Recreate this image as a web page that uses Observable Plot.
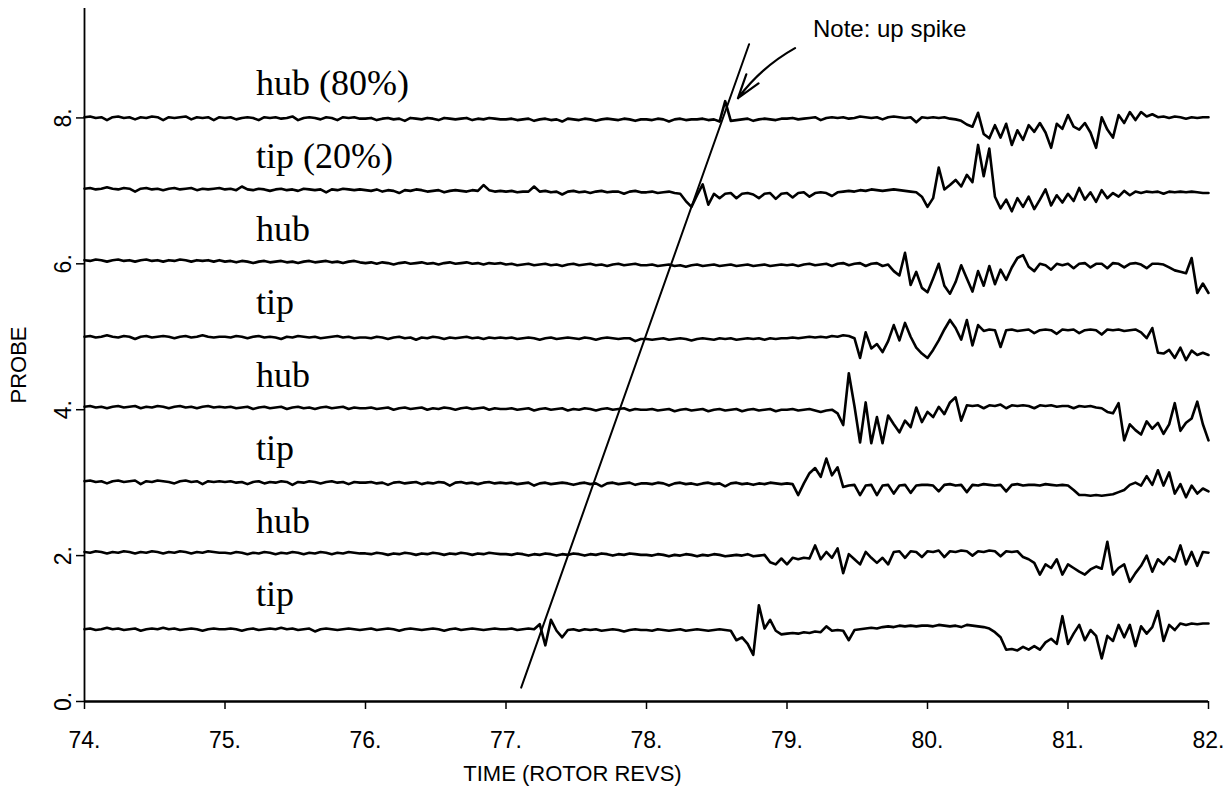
<!DOCTYPE html>
<html>
<head>
<meta charset="utf-8">
<script src="https://cdn.jsdelivr.net/npm/d3@7"></script>
<script src="https://cdn.jsdelivr.net/npm/@observablehq/plot@0.6"></script>
<style>
  html, body { margin: 0; padding: 0; background: #fff; }
</style>
</head>
<body>
<div id="chart"></div>
<script>
// Probe traces, sampled every 0.04 rotor rev from 74 to 82 (201 samples each).
// Each value is the deviation from the probe's base level, in hundredths.
const t0 = 74;
const dt = 0.04;

const probeLevels = [8, 7, 6, 5, 4, 3, 2, 1];
const probeNames = ["hub (80%)", "tip (20%)", "hub", "tip", "hub", "tip", "hub", "tip"];

const probe8Hub = [
  1,2,0,1,-3, 1,2,0,1,-2, 1,0,2,1,-3, 1,0,1,2,-2, 1,0,1,-3,1,
  0,1,-2,0,1, 0,-3,1,0,1, -1,0,2,-3,0, 1,0,-2,1,0, -3,1,0,1,-1,
  -1,0,-3,-1,0, -2,-1,-4,0,-1, -2,0,-1,-3,0, -1,-2,-1,0,-3, -1,-2,0,-1,-2,
  -2,-1,-3,-2,-1, -4,-2,-1,-3,-2, -5,-1,-2,-3,-1, -2,-4,-2,-1,-2, -3,-1,-2,-4,-2,
  -2,-3,-1,-2,-5, -2,-1,-3,-2,-2, -1,-3,-2,-5,23, -4,-3,-2,-1,-4, -2,-1,-2,-3,-1,
  -1,0,-2,-1,0, 1,-3,0,1,0, 1,-1,0,2,1, 0,1,-2,1,2, 1,0,1,-6,1,
  0,1,0,1,-1, -2,-4,-9,-12,7, -22,-28,-10,-27,-8, -37,-17,-30,-10,-19, -7,-20,-41,-8,-15,
  4,-12,-16,-7,-20, -41,1,-16,-27,4, -7,8,-3,8,2, 5,1,2,0,2, 1,-1,1,0,1,
  1
];

const probe7Tip = [
  3,4,2,3,5, 3,2,4,3,-1, 3,4,2,3,1, 3,4,2,3,4, 1,3,2,3,4,
  2,3,1,6,2, 1,3,2,0,2, 3,1,2,0,3, 2,1,2,-2,2, 1,3,2,1,2,
  1,0,2,-1,1, 0,-3,1,0,2, 1,-1,0,1,-2, 0,1,0,-1,1, 0,8,1,-1,0,
  -1,0,-2,-1,-1, 6,-1,0,-2,-1, -5,-1,0,-2,-1, -3,-1,0,-2,-1, -1,-4,-1,0,-2,
  -2,-1,-3,-2,-1, -3,-4,-14,-22,-6, 9,-19,-4,-10,-4, -3,-10,-4,-3,-5, -10,-4,-3,-11,-4,
  -3,-9,-3,-2,-8, -3,-2,-3,-7,-2, -1,0,-1,1,0, 2,1,0,1,2, 1,0,-1,-2,-8,
  -22,-10,32,2,8, 15,6,22,12,63, 20,58,-8,-24,-12, -28,-10,-22,-8,-25, -12,2,-20,-6,-16,
  -4,-14,4,-12,-2, -15,1,-10,-3,-8, 0,-6,-1,-3,-1, -2,-1,-4,-1,-2, -1,-2,-1,-2,-3,
  -3
];

const probe6Hub = [
  5,4,6,5,3, 5,6,4,5,3, 5,6,4,5,3, 5,4,6,5,3, 5,4,5,3,5,
  3,4,2,4,3, 1,3,4,2,3, 4,2,3,1,3, 4,2,3,4,2, 3,1,3,4,2,
  1,2,0,2,1, -1,1,2,0,1, 2,0,1,-1,1, 2,0,1,2,0, 1,-1,1,0,1,
  -1,0,-2,-1,0, -2,-1,0,-2,-1, -3,-1,0,-2,-1, 0,-2,-1,-3,-1, 0,-2,-1,0,-2,
  -2,-1,-3,-2,-1, -3,-2,-4,-2,-1, -3,-2,-1,-3,-2, -1,-3,-2,-1,-3, -2,-1,-3,-2,-1,
  -2,-1,-3,-1,0, -2,-1,0,-3,0, 1,-2,0,1,-3, 0,1,-3,-1,-10, -16,15,-29,-11,-33,
  -39,-20,0,-30,-41, -25,-2,-20,-38,-10, -30,-3,-28,-8,-22, -5,8,12,-4,-10, 0,-2,-8,0,-2,
  0,-6,0,1,-5, 0,0,-6,1,0, -5,0,1,-1,-6, 0,0,-1,-5,-9, -11,-13,8,-40,-27,
  -40
];

const probe5Tip = [
  0,1,-1,0,2, 0,-1,1,0,-3, 0,1,-1,0,1, 0,-2,0,1,-1, 0,2,0,-1,0,
  0,-1,1,0,-2, 0,1,-1,0,-1, -3,0,-1,1,0, -1,0,-2,-1,0, 1,-1,0,-2,-1,
  -1,-2,0,-1,-3, -1,0,-2,-1,-4, -1,-2,0,-1,-3, -1,-2,-1,0,-2, -1,-3,-1,-2,-1,
  -2,-1,-3,-2,-1, -2,-4,-2,-1,-3, -2,-1,-2,-3,-1, -2,-4,-2,-1,-2, -3,-2,-2,-6,-3,
  -3,-4,-3,-2,-4, -3,-2,-3,-5,-3, -2,-3,-4,-2,-3, -2,-4,-3,-2,-3, -2,-4,-2,-3,-2,
  -2,-1,-2,-1,0, -1,0,-1,1,0, 2,1,-2,-29,6, -16,-10,-21,-6,16, -5,19,0,-15,-23,
  -29,-18,-5,10,23, 12,-4,23,-12,16, 8,10,9,-14,9, 10,8,9,10,5, 9,10,9,4,10,
  9,10,5,9,10, 9,3,10,9,10, 8,9,10,6,-2, 12,-22,-23,-18,-29, -15,-32,-19,-25,-22,
  -25
];

const probe4Hub = [
  4,5,3,4,2, 4,5,3,4,5, 2,4,3,5,4, 2,4,5,3,4, 2,4,5,3,4,
  3,4,2,3,4, 1,3,4,2,3, 4,1,3,4,2, 3,1,3,4,2, 3,4,1,3,2,
  2,3,1,2,3, 0,2,3,1,2, 3,0,2,1,3, 2,0,2,3,1, 2,3,0,2,1,
  1,2,0,1,2, -1,1,2,0,1, 2,-1,1,0,2, 1,-1,1,2,0, 1,2,-1,1,0,
  0,1,-1,0,1, -2,0,1,-1,0, 1,-2,0,1,-1, 0,1,-2,0,1, -1,0,1,-2,0,
  0,1,-1,0,1, -1,-3,-1,0,-5, -21,50,5,-45,10, -46,-10,-46,-8,-20, -31,-15,-24,3,-17,
  -3,-10,4,-6,10, 17,-15,6,5,6, 2,6,5,7,2, 6,5,6,5,2, 6,5,6,4,5,
  5,2,5,4,5, 3,2,-3,-5,9, -42,-20,-28,-34,-16, -26,-18,-33,-20,9, -29,-18,-12,11,-20,
  -42
];

const probe3Tip = [
  2,3,1,2,-1, 2,3,1,2,3, -2,2,1,3,2, 1,-1,2,3,1, 2,-2,2,1,2,
  1,2,0,1,-2, 1,2,-1,1,0, 2,1,-3,1,0, 2,1,-1,1,2, 0,1,-2,1,0,
  0,1,-1,0,-3, 0,1,-1,0,1, -2,0,-1,1,0, -4,0,1,-1,0, -2,0,1,-1,0,
  -1,0,-2,-1,0, -4,-1,0,-2,-1, 0,-1,-3,-1,0, -2,-1,-5,-1,0, -2,-1,0,-3,-1,
  -1,-2,0,-1,-4, -1,0,-2,-1,-3, -1,0,-2,-1,-5, -1,0,-2,-1,-3, -1,-2,0,-1,-2,
  -1,-2,-17,-1,13, 20,8,33,10,21, -6,-4,-3,-17,-4, -3,-17,-4,-3,-15, -4,-3,-14,-4,-3,
  -3,-4,-12,-3,-2, -4,-3,-13,-3,-4, -2,-3,-4,-3,-12, -3,-2,-4,-3,-3, -4,-2,-3,-4,-3,
  -4,-10,-17,-17,-18, -17,-18,-17,-16,-13, -10,-3,0,-4,9, -3,17,-4,14,-15, -2,-20,-4,-15,-8,
  -12
];

const probe2Hub = [
  5,4,6,5,3, 5,4,6,5,3, 5,4,6,5,3, 5,4,6,5,3, 5,4,6,5,4,
  4,3,5,4,2, 4,3,5,4,2, 4,3,5,4,2, 4,3,5,4,2, 4,3,5,4,3,
  3,2,4,3,1, 3,2,4,3,1, 3,2,4,3,1, 3,2,4,3,1, 3,2,4,3,2,
  2,1,3,2,0, 2,1,3,2,0, 2,1,3,2,0, 2,1,3,2,0, 2,1,3,2,1,
  1,0,2,1,-1, 1,0,2,1,-1, 1,0,2,1,-1, 0,1,0,2,-1, 0,1,-9,-12,-4,
  -12,-3,-5,-3,-4, 14,-5,5,-3,10, -24,2,-5,-12,5, -3,-10,-3,-12,5, 6,-3,6,5,-2,
  6,5,7,-2,6, 5,7,6,0,6, 5,7,6,-1,6, 5,6,-2,-5,-10, -26,-12,-17,-5,-26,
  -12,-17,-22,-26,-19, -15,-18,19,-26,-17, -12,-36,-24,-14,0, -22,-5,-12,-2,-8, 14,-12,5,-14,5,
  4
];

const probe1Tip = [
  -1,0,-2,-1,1, -1,0,-2,-1,0, -3,-1,0,-1,1, -1,0,-2,-1,0, -1,-3,-1,0,-1,
  -1,0,-1,-3,-1, 0,-2,-1,0,-1, 1,-1,0,-2,-1, 0,-4,-1,0,-1, -2,-1,0,-1,-2,
  -1,0,-2,-1,0, -1,-3,-1,0,-1, -2,-1,0,-1,-3, -1,0,-2,-1,0, -1,-2,-1,0,-1,
  -1,0,-2,-1,0, -1,6,-23,12,-3, -12,-2,-1,-3,-1, -2,-1,-3,-2,-1, -2,-4,-2,-1,-2,
  -2,-3,-1,-2,-3, -2,-1,-3,-2,-1, -2,-3,-2,-1,-2, -3,-16,-12,-21,-36, 32,0,12,-3,-8,
  -7,-6,-7,-5,-6, -4,-5,3,-3,-2, -3,-16,-2,-1,0, 1,0,2,3,2, 4,3,4,3,4,
  4,3,5,4,3, 4,2,5,4,3, 2,0,-5,-12,-29, -28,-30,-25,-29,-24, -29,-19,-14,-21,17,
  -21,-7,5,-16,-2, -10,-41,-10,-17,5, -12,5,-24,3,-7, 2,24,-17,5,-2, 7,5,7,6,7,
  7
];

const probeSeries = [probe8Hub, probe7Tip, probe6Hub, probe5Tip, probe4Hub, probe3Tip, probe2Hub, probe1Tip];

// Axis ticks
const xTicks = [74, 75, 76, 77, 78, 79, 80, 81, 82];
const yTicks = [0, 2, 4, 6, 8];

// Hand-drawn propagation line and its note
const spikeLine = [{t: 77.108, y: 0.19}, {t: 78.73, y: 9.01}];
const noteText = "Note: up spike";
const noteArrow = [{x1: 79.057, y1: 8.957, x2: 78.651, y2: 8.27}];

// Long-format rows for the line mark
const rows = [];
probeSeries.forEach((values, k) => {
  const level = probeLevels[k];
  values.forEach((v, i) => rows.push({probe: level, t: t0 + i * dt, y: level + v / 100}));
});

const labels = probeLevels.map((level, k) => ({level, name: probeNames[k]}));

const chart = Plot.plot({
  width: 1230,
  height: 786,
  marginLeft: 84,
  marginRight: 22,
  marginTop: 8,
  marginBottom: 85,
  style: {
    fontFamily: "'Liberation Sans', Arial, Helvetica, sans-serif",
    fontSize: "22px",
    color: "#000",
    background: "#fff"
  },
  x: {domain: [74, 82]},
  y: {domain: [0, 9.5]},
  marks: [
    Plot.axisX({ticks: xTicks, tickFormat: d => `${d}.`, tickSize: 8, tickPadding: 22, label: null, strokeWidth: 1.5, fontSize: 23}),
    Plot.axisY({ticks: yTicks, tickFormat: d => `${d}.`, tickSize: 8, tickPadding: 6, tickRotate: -90, label: null, strokeWidth: 1.5, fontSize: 23}),
    Plot.ruleY([0], {stroke: "#000", strokeWidth: 2.4}),
    Plot.ruleX([74], {y1: 0, y2: 9.5, stroke: "#000", strokeWidth: 1.8}),
    Plot.line(rows, {x: "t", y: "y", z: "probe", stroke: "#000", strokeWidth: 2.6, strokeLinejoin: "round"}),
    Plot.line(spikeLine, {x: "t", y: "y", stroke: "#000", strokeWidth: 2}),
    Plot.arrow(noteArrow, {x1: "x1", y1: "y1", x2: "x2", y2: "y2", bend: -12, headLength: 20, headAngle: 35, stroke: "#000", strokeWidth: 2.2}),
    Plot.text([noteText], {x: 79.185, y: 9.108, text: d => d, textAnchor: "start", lineAnchor: "bottom", fontSize: 24}),
    Plot.text(labels, {
      x: 75.22, y: d => d.level + 0.31, text: "name",
      textAnchor: "start", lineAnchor: "bottom",
      fontFamily: "'Liberation Serif', 'Times New Roman', serif", fontSize: 36
    }),
    Plot.text(["TIME (ROTOR REVS)"], {frameAnchor: "bottom", text: d => d, dx: -74, dy: 79, lineAnchor: "bottom", textAnchor: "middle", fontSize: 22}),
    Plot.text(["PROBE"], {frameAnchor: "left", text: d => d, dx: -66, dy: 10, rotate: -90, textAnchor: "middle", lineAnchor: "middle", fontSize: 22})
  ]
});

document.getElementById("chart").appendChild(chart);
</script>
</body>
</html>
